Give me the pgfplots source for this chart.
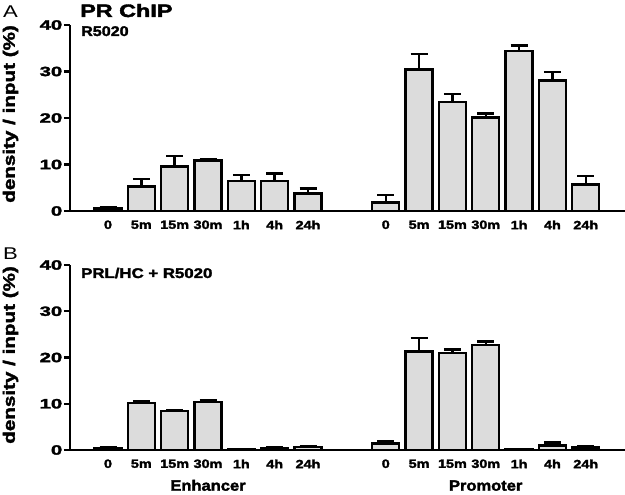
\documentclass[border=0pt]{standalone}
\usepackage{fontspec}
\setmainfont{Liberation Sans}[BoldFeatures={FakeBold=2}]
\usepackage{pgfplots}
\usepackage{pgfplotstable}
\pgfplotsset{compat=1.18}
\definecolor{barfill}{RGB}{220,220,220}

% Panel A: R5020 (x: enhancer 0..6, promoter 8.333..14.333)
\pgfplotstableread{
x y e
0 0.5 0.3
1 5.3 1.6
2 9.6 2.2
3 10.9 0.3
4 6.5 1.3
5 6.4 1.7
6 3.75 1.05
8.333 1.8 1.7
9.333 30.4 3.4
10.333 23.4 1.7
11.333 20.1 0.9
12.333 34.4 1.2
13.333 28.1 1.8
14.333 5.7 1.8
}\dataA

% Panel B: PRL/HC + R5020
\pgfplotstableread{
x y e
0 0.35 0.25
1 10.1 0.5
2 8.4 0.3
3 10.4 0.35
4 0.1 0.1
5 0.3 0.2
6 0.6 0.3
8.333 1.4 0.6
9.333 21.3 2.9
10.333 21.0 0.7
11.333 22.7 0.8
12.333 0.15 0.1
13.333 1.0 0.6
14.333 0.5 0.25
}\dataB

\pgfplotsset{
  chipaxis/.style={
    scale only axis, width=555pt, height=186pt,
    xmin=-1.14, xmax=15.51, ymin=0, ymax=40,
    axis x line=bottom, axis y line=left,
    axis line style={-, line width=2.4pt, black},
    ytick={0,10,20,30,40},
    xtick={0,1,2,3,4,5,6,8.333,9.333,10.333,11.333,12.333,13.333,14.333},
    xticklabels={0,5m,15m,30m,1h,4h,24h,0,5m,15m,30m,1h,4h,24h},
    tick align=outside, major tick length=6pt,
    xtick style={draw=none},
    ytick style={line width=2.4pt, black},
    minor tick num=0,
    /pgf/number format/assume math mode=true,
    yticklabel style={font=\bfseries\fontsize{13.5}{13.5}\selectfont, xscale=1.5, inner sep=1pt},
    xticklabel style={font=\bfseries\fontsize{12}{12}\selectfont, xscale=1.2},
    ybar, bar width=0.81, bar shift=0pt,
    clip=false,
  },
  chipbars/.style={
    fill=barfill, draw=black, line width=2.4pt,
    error bars/.cd, y dir=plus, y explicit,
    error bar style={line width=2.4pt, black},
    error mark options={line width=2.4pt, black, mark size=8.5pt, rotate=90},
  },
}

\begin{document}
\begin{tikzpicture}
\useasboundingbox (0pt,0pt) rectangle (625pt,495pt);

\begin{axis}[chipaxis, at={(70pt,284pt)}, anchor=south west]
\addplot[chipbars] table[x=x, y=y, y error=e] {\dataA};
\end{axis}

\begin{axis}[chipaxis, height=185pt, at={(70pt,45pt)}, anchor=south west]
\addplot[chipbars] table[x=x, y=y, y error=e] {\dataB};
\end{axis}

% panel letters and titles
\node[anchor=base west, inner sep=0, font=\fontsize{17}{17}\selectfont] at (3pt,477pt) {\scalebox{1.3}[1]{A}};
\node[anchor=base west, inner sep=0, font=\fontsize{17}{17}\selectfont] at (3pt,235pt) {\scalebox{1.3}[1]{B}};
\node[anchor=base west, inner sep=0, font=\bfseries\fontsize{18}{18}\selectfont] at (80pt,478pt) {\scalebox{1.3}[1]{PR ChIP}};
\node[anchor=base west, inner sep=0, font=\bfseries\fontsize{14}{14}\selectfont] at (81pt,459pt) {\scalebox{1.15}[1]{R5020}};
\node[anchor=base west, inner sep=0, font=\bfseries\fontsize{14}{14}\selectfont] at (81pt,217pt) {\scalebox{1.2}[1]{PRL/HC + R5020}};

% y labels
\node[anchor=center, inner sep=0, rotate=90, font=\bfseries\fontsize{16.5}{16.5}\selectfont] at (10.5pt,381pt) {\scalebox{1.25}[1]{density / input (\%)}};
\node[anchor=center, inner sep=0, rotate=90, font=\bfseries\fontsize{16.5}{16.5}\selectfont] at (10.5pt,140pt) {\scalebox{1.25}[1]{density / input (\%)}};

% group labels
\node[anchor=base, inner sep=0, font=\bfseries\fontsize{15}{15}\selectfont] at (208pt,4.3pt) {\scalebox{1.1}[1]{Enhancer}};
\node[anchor=base, inner sep=0, font=\bfseries\fontsize{15}{15}\selectfont] at (485.7pt,4.3pt) {\scalebox{1.1}[1]{Promoter}};
\end{tikzpicture}
\end{document}
